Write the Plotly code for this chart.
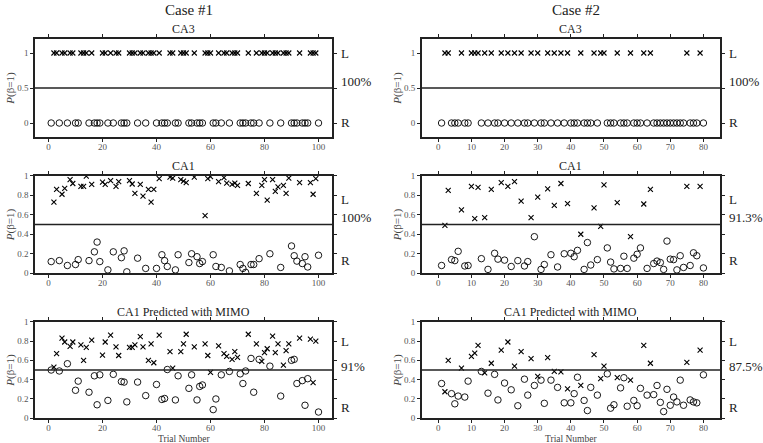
import plotly.graph_objects as go

# ---------------- data ----------------
case_titles = ["Case #1", "Case #2"]
panel_titles = ["CA3", "CA1", "CA1 Predicted with MIMO"]
accuracy_c1 = ["100%", "100%", "91%"]
accuracy_c2 = ["100%", "91.3%", "87.5%"]
x_title = "Trial Number"
y_title = "<i>P</i>(β=1)"

c1_L = [2, 3, 5, 6, 8, 9, 12, 13, 14, 16, 20, 21, 23, 25, 26, 30, 31, 32, 34, 35, 37, 38, 39, 41,
        45, 46, 49, 50, 51, 54, 58, 59, 60, 63, 65, 66, 68, 69, 70, 74, 77, 79, 80, 81, 83, 84, 85,
        87, 88, 89, 93, 97, 98, 99]
c1_R = [1, 4, 7, 10, 11, 15, 17, 18, 19, 22, 24, 27, 28, 29, 33, 36, 40, 42, 43, 44, 47, 48, 52, 53,
        55, 56, 57, 61, 62, 64, 67, 71, 72, 73, 75, 76, 78, 82, 86, 90, 91, 92, 94, 95, 96, 100]
c1_ca3_L = [1] * len(c1_L)
c1_ca3_R = [0] * len(c1_R)
c1_ca1_L = [0.73, 0.86, 0.81, 0.87, 0.96, 0.92, 0.89, 0.89, 0.995, 0.91, 0.935, 0.91, 0.95, 0.89,
            0.94, 0.95, 0.915, 0.82, 0.91, 0.79, 0.86, 0.73, 0.86, 0.97, 0.985, 0.975, 0.96, 0.945,
            0.93, 0.985, 0.59, 0.97, 0.99, 0.94, 0.98, 0.925, 0.91, 0.925, 0.9, 0.92, 0.82, 0.9,
            0.96, 0.75, 0.96, 0.84, 0.885, 0.9, 0.82, 0.975, 0.93, 0.93, 0.81, 0.97]
c1_ca1_R = [0.12, 0.13, 0.08, 0.09, 0.14, 0.13, 0.22, 0.32, 0.12, 0.035, 0.22, 0.16, 0.23, 0.015,
            0.155, 0.05, 0.05, 0.19, 0.13, 0.07, 0.035, 0.19, 0.11, 0.2, 0.17, 0.10, 0.12, 0.19,
            0.07, 0.06, 0.025, 0.09, 0.05, 0.01, 0.09, 0.09, 0.15, 0.2, 0.06, 0.28, 0.18, 0.125,
            0.10, 0.17, 0.065, 0.185]
c1_mimo_L = [0.53, 0.67, 0.83, 0.79, 0.745, 0.79, 0.76, 0.60, 0.735, 0.81, 0.655, 0.79, 0.86, 0.74,
             0.65, 0.735, 0.735, 0.76, 0.845, 0.74, 0.60, 0.77, 0.575, 0.86, 0.69, 0.52, 0.69, 0.77,
             0.87, 0.74, 0.77, 0.65, 0.475, 0.75, 0.67, 0.64, 0.61, 0.69, 0.63, 0.87, 0.77, 0.59,
             0.68, 0.72, 0.85, 0.68, 0.77, 0.55, 0.70, 0.77, 0.83, 0.82, 0.37, 0.80]
c1_mimo_R = [0.5, 0.49, 0.565, 0.29, 0.385, 0.27, 0.44, 0.14, 0.45, 0.185, 0.455, 0.38, 0.375, 0.17,
             0.375, 0.235, 0.35, 0.195, 0.205, 0.505, 0.19, 0.44, 0.31, 0.45, 0.19, 0.33, 0.345,
             0.09, 0.2, 0.45, 0.485, 0.46, 0.36, 0.49, 0.62, 0.27, 0.61, 0.54, 0.23, 0.6, 0.61,
             0.36, 0.39, 0.135, 0.41, 0.065]

c2_L = [2, 3, 7, 10, 11, 12, 14, 16, 19, 21, 23, 25, 28, 30, 33, 35, 37, 39, 43, 47, 49, 50, 54, 58,
        62, 64, 75, 79]
c2_R = [1, 4, 5, 6, 8, 9, 13, 15, 17, 18, 20, 22, 24, 26, 27, 29, 31, 32, 34, 36, 38, 40, 41, 42,
        44, 45, 46, 48, 51, 52, 53, 55, 56, 57, 59, 60, 61, 63, 65, 66, 67, 68, 69, 70, 71, 72, 73,
        74, 76, 77, 78, 80]
c2_ca3_L = [1] * len(c2_L)
c2_ca3_R = [0] * len(c2_R)
c2_ca1_L = [0.49, 0.85, 0.65, 0.89, 0.56, 0.88, 0.57, 0.86, 0.93, 0.89, 0.94, 0.74, 0.57, 0.78,
            0.865, 0.695, 0.92, 0.715, 0.40, 0.67, 0.48, 0.905, 0.725, 0.375, 0.71, 0.86, 0.89, 0.89]
c2_ca1_R = [0.08, 0.14, 0.13, 0.225, 0.075, 0.08, 0.15, 0.04, 0.205, 0.145, 0.135, 0.07, 0.13,
            0.075, 0.12, 0.375, 0.04, 0.09, 0.19, 0.065, 0.2, 0.205, 0.17, 0.235, 0.04, 0.315,
            0.085, 0.14, 0.26, 0.115, 0.045, 0.05, 0.175, 0.05, 0.155, 0.195, 0.26, 0.05, 0.1,
            0.125, 0.11, 0.04, 0.33, 0.145, 0.14, 0.035, 0.18, 0.06, 0.08, 0.21, 0.18, 0.055]
c2_mimo_L = [0.275, 0.60, 0.52, 0.64, 0.675, 0.755, 0.47, 0.57, 0.705, 0.79, 0.54, 0.69, 0.617,
             0.435, 0.627, 0.485, 0.48, 0.305, 0.34, 0.66, 0.41, 0.54, 0.42, 0.395, 0.755, 0.57,
             0.58, 0.705]
c2_mimo_R = [0.36, 0.255, 0.15, 0.23, 0.22, 0.385, 0.485, 0.26, 0.455, 0.19, 0.365, 0.295, 0.13,
             0.405, 0.24, 0.34, 0.395, 0.155, 0.395, 0.32, 0.16, 0.16, 0.255, 0.425, 0.185, 0.08,
             0.32, 0.24, 0.46, 0.105, 0.14, 0.315, 0.42, 0.125, 0.185, 0.13, 0.31, 0.24, 0.245,
             0.34, 0.165, 0.07, 0.30, 0.135, 0.22, 0.17, 0.395, 0.135, 0.19, 0.17, 0.16, 0.45]

x_ticks_c1 = [0, 20, 40, 60, 80, 100]
x_ticks_c2 = [0, 10, 20, 30, 40, 50, 60, 70, 80]
y_ticks_top = [0, 0.5, 1]
y_ticks_prob = [0, 0.2, 0.4, 0.6, 0.8, 1]

# ---------------- figure ----------------
W, H = 763, 443
FONT = "Liberation Serif, Times New Roman, serif"

col_px = [(35, 332), (421.7, 720)]
row_px = [(39, 137), (175.7, 273.3), (321.7, 418.3)]

fig = go.Figure()

panels = [
    (0, 0, c1_L, c1_ca3_L, c1_R, c1_ca3_R),
    (0, 1, c2_L, c2_ca3_L, c2_R, c2_ca3_R),
    (1, 0, c1_L, c1_ca1_L, c1_R, c1_ca1_R),
    (1, 1, c2_L, c2_ca1_L, c2_R, c2_ca1_R),
    (2, 0, c1_L, c1_mimo_L, c1_R, c1_mimo_R),
    (2, 1, c2_L, c2_mimo_L, c2_R, c2_mimo_R),
]

annotations = []
shapes = []
layout = {}

for i, (r, c, xl, yl, xr, yr) in enumerate(panels):
    k = i + 1
    xa = "x" if k == 1 else f"x{k}"
    ya = "y" if k == 1 else f"y{k}"
    xkey = "xaxis" if k == 1 else f"xaxis{k}"
    ykey = "yaxis" if k == 1 else f"yaxis{k}"

    fig.add_trace(go.Scatter(x=xl, y=yl, mode="markers", xaxis=xa, yaxis=ya,
                             marker=dict(symbol="x-thin-open", size=5, color="black",
                                         line=dict(width=1.1, color="black")),
                             showlegend=False, hoverinfo="skip"))
    fig.add_trace(go.Scatter(x=xr, y=yr, mode="markers", xaxis=xa, yaxis=ya,
                             marker=dict(symbol="circle-open", size=6.5, color="black",
                                         line=dict(width=0.9, color="black")),
                             showlegend=False, hoverinfo="skip"))

    x0, x1 = col_px[c]
    y0, y1 = row_px[r]
    xdom = [x0 / W, x1 / W]
    ydom = [1 - y1 / H, 1 - y0 / H]

    if c == 0:
        xr_range, xt = [-5, 105], x_ticks_c1
    else:
        xr_range, xt = [-5, 85], x_ticks_c2
    if r == 0:
        yr_range, yt = [-0.2, 1.2], y_ticks_top
    else:
        yr_range, yt = [0, 1], y_ticks_prob

    layout[xkey] = dict(domain=xdom, range=xr_range, tickvals=xt, anchor=ya, automargin=False,
                        showline=True, mirror="ticks", linecolor="#222", linewidth=1.5,
                        ticks="outside", ticklen=3, tickcolor="#222", showgrid=False,
                        zeroline=False, ticklabelstandoff=-3,
                        tickfont=dict(family=FONT, size=9, color="#555"))
    layout[ykey] = dict(domain=ydom, range=yr_range, tickvals=yt, anchor=xa, automargin=False,
                        showline=True, mirror="ticks", linecolor="#222", linewidth=1.5,
                        ticks="outside", ticklen=3, tickcolor="#222", showgrid=False,
                        zeroline=False, tickfont=dict(family=FONT, size=9, color="#555"),
                        title=dict(text=y_title,
                                   font=dict(family=FONT, size=11, color="#444"), standoff=0))

    if r == 2:
        annotations.append(dict(text=x_title, xref=f"{xa} domain", yref="paper",
                                x=0.5, y=1 - 438.5 / H, xanchor="center", yanchor="middle",
                                showarrow=False, font=dict(family=FONT, size=9.5, color="#444")))

    shapes.append(dict(type="line", xref=f"{xa} domain", yref=ya, x0=0, x1=1, y0=0.5, y1=0.5,
                       line=dict(color="#222", width=1.3)))

    annotations.append(dict(text=panel_titles[r], xref=f"{xa} domain", yref=f"{ya} domain",
                            x=0.5, y=1.0, yshift=1, xanchor="center", yanchor="bottom",
                            showarrow=False, font=dict(family=FONT, size=12, color="#222")))

    acc = (accuracy_c1 if c == 0 else accuracy_c2)[r]
    lpos = [(0.857, 0.564, 0.143), (0.76, 0.567, 0.13), (0.80, 0.54, 0.107)][r]
    for txt, yy in zip(["L", acc, "R"], lpos):
        annotations.append(dict(text=txt, xref=f"{xa} domain", yref=f"{ya} domain",
                                x=1, xshift=7, y=yy, xanchor="left", yanchor="middle",
                                showarrow=False, font=dict(family=FONT, size=13, color="#222")))

for c in range(2):
    x0, x1 = col_px[c]
    annotations.append(dict(text=case_titles[c], xref="paper", yref="paper",
                            x=(x0 + x1) / 2 / W + 5 / W, y=1 - 10 / H, xanchor="center",
                            yanchor="middle", showarrow=False,
                            font=dict(family=FONT, size=15, color="#222")))

fig.update_layout(width=W, height=H, margin=dict(l=0, r=0, t=0, b=0),
                  paper_bgcolor="white", plot_bgcolor="white",
                  annotations=annotations, shapes=shapes, **layout)

fig.write_html("out.html", config={"displayModeBar": False},
               post_script="document.body.style.margin='0';document.body.style.padding='0';")
